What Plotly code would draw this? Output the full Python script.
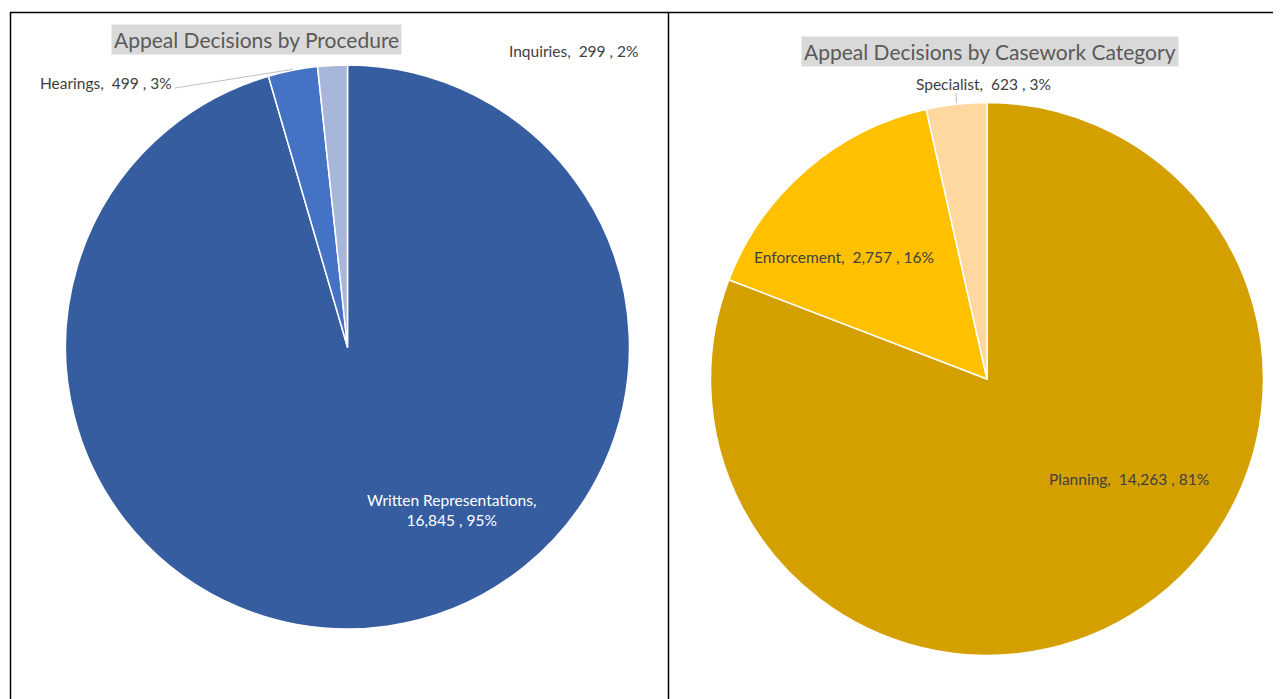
import math
import plotly.graph_objects as go

# ---- data ----
proc_labels = ["Written Representations", "Hearings", "Inquiries"]
proc_values = [16845, 499, 299]
proc_pct = ["95%", "3%", "2%"]
proc_colors = ["#355DA0", "#4472C4", "#A8B6DC"]

cat_labels = ["Planning", "Enforcement", "Specialist"]
cat_values = [14263, 2757, 623]
cat_pct = ["81%", "16%", "3%"]
cat_colors = ["#D4A000", "#FFC000", "#FFD8A0"]

title_left = "Appeal Decisions by Procedure"
title_right = "Appeal Decisions by Casework Category"

# the page body has an 8px margin, so the figure starts at (8, 8)
OFF = 8
W, H = 1281 - OFF, 699 - OFF
FONT = "Lato"

def px(x):
    return (x - OFF) / W

def py(y):
    return 1 - (y - OFF) / H

# pie geometry (window pixels)
L_C, L_R = (347.5, 347.0), 282.0
R_C, R_R = (987.0, 379.0), 276.5

def dom(c, r):
    return dict(x=[px(c[0] - r), px(c[0] + r)], y=[py(c[1] + r), py(c[1] - r)])

def edge_point(values, idx, c, r, extra=0.0):
    tot = sum(values)
    start = sum(values[:idx]) / tot * 360
    mid = start + values[idx] / tot * 360 / 2
    a = math.radians(mid)
    return (c[0] + (r + extra) * math.sin(a), c[1] - (r + extra) * math.cos(a))

def fmt(v):
    return f"{v:,}"

fig = go.Figure()
fig.add_trace(go.Pie(
    labels=proc_labels, values=proc_values, sort=False, direction="clockwise",
    rotation=0, textinfo="none", hoverinfo="label+value+percent",
    marker=dict(colors=proc_colors, line=dict(color="white", width=1.5)),
    domain=dom(L_C, L_R), showlegend=False,
))
fig.add_trace(go.Pie(
    labels=cat_labels, values=cat_values, sort=False, direction="clockwise",
    rotation=0, textinfo="none", hoverinfo="label+value+percent",
    marker=dict(colors=cat_colors, line=dict(color="white", width=1.5)),
    domain=dom(R_C, R_R), showlegend=False,
))

dark = "#404040"
LS = 15.5
ann = []
shapes = []

# titles
ann.append(dict(x=px(256), y=py(40), text=title_left, showarrow=False,
                font=dict(family=FONT, size=21, color="#595959"),
                bgcolor="#D9D9D9", borderpad=2, xanchor="center", yanchor="middle"))
ann.append(dict(x=px(990), y=py(51), text=title_right, showarrow=False,
                font=dict(family=FONT, size=21, color="#595959"),
                bgcolor="#D9D9D9", borderpad=2, xanchor="center", yanchor="middle"))

lab = lambda lbls, vals, pcts, i: f"{lbls[i]},  {fmt(vals[i])} , {pcts[i]}"

# left pie labels
ann.append(dict(x=px(452), y=py(510),
                text=f"{proc_labels[0]},<br>{fmt(proc_values[0])} , {proc_pct[0]}",
                showarrow=False, font=dict(family=FONT, size=LS, color="white"),
                xanchor="center", yanchor="middle", align="center"))
ann.append(dict(x=px(174), y=py(83), text=lab(proc_labels, proc_values, proc_pct, 1),
                showarrow=False, font=dict(family=FONT, size=LS, color=dark),
                xanchor="right", yanchor="middle"))
ann.append(dict(x=px(573), y=py(51), text=lab(proc_labels, proc_values, proc_pct, 2),
                showarrow=False, font=dict(family=FONT, size=LS, color=dark),
                xanchor="center", yanchor="middle"))

# right pie labels
ann.append(dict(x=px(1129), y=py(479), text=lab(cat_labels, cat_values, cat_pct, 0),
                showarrow=False, font=dict(family=FONT, size=LS, color=dark),
                xanchor="center", yanchor="middle"))
ann.append(dict(x=px(844), y=py(257), text=lab(cat_labels, cat_values, cat_pct, 1),
                showarrow=False, font=dict(family=FONT, size=LS, color=dark),
                xanchor="center", yanchor="middle"))
ann.append(dict(x=px(983), y=py(84), text=lab(cat_labels, cat_values, cat_pct, 2),
                showarrow=False, font=dict(family=FONT, size=LS, color=dark),
                xanchor="center", yanchor="middle"))

# leader lines
hx, hy = edge_point(proc_values, 1, L_C, L_R, 1)
shapes.append(dict(type="line", xref="paper", yref="paper",
                   x0=px(175), y0=py(88), x1=px(hx), y1=py(hy),
                   line=dict(color="#BFBFBF", width=1)))
sx, sy = edge_point(cat_values, 2, R_C, R_R, 1)
shapes.append(dict(type="line", xref="paper", yref="paper",
                   x0=px(sx), y0=py(93), x1=px(sx), y1=py(sy),
                   line=dict(color="#BFBFBF", width=1)))

# table frame
fr = dict(color="black", width=1.5)
shapes.append(dict(type="line", xref="paper", yref="paper", x0=px(10), y0=py(12.5), x1=1, y1=py(12.5), line=fr))
shapes.append(dict(type="line", xref="paper", yref="paper", x0=px(10.5), y0=py(12), x1=px(10.5), y1=0, line=fr))
shapes.append(dict(type="line", xref="paper", yref="paper", x0=px(668.5), y0=py(12), x1=px(668.5), y1=0, line=fr))

fig.update_layout(
    width=W, height=H, margin=dict(l=0, r=0, t=0, b=0),
    paper_bgcolor="white", plot_bgcolor="white",
    annotations=ann, shapes=shapes,
    font=dict(family=FONT),
)

fig.write_html("out.html")
